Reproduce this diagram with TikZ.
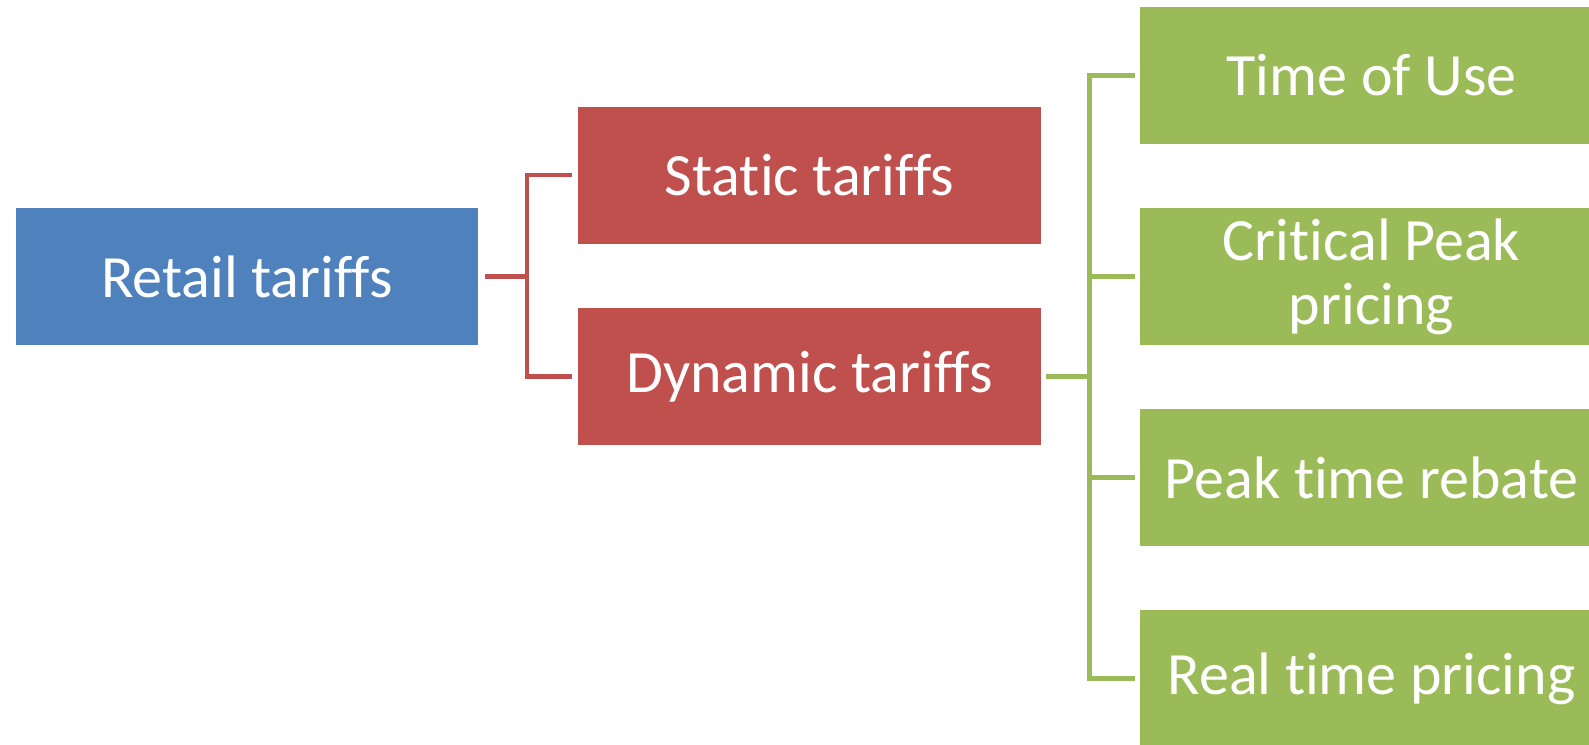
\documentclass[tikz,border=0pt]{standalone}
\usepackage{fontspec}
\setmainfont[Ligatures={NoCommon,NoRequired,NoContextual}]{Carlito}
\definecolor{tblue}{HTML}{4F81BD}
\definecolor{tred}{HTML}{C0504D}
\definecolor{tgreen}{HTML}{9BBB59}
% breaks the t-i ligature of the font
\newcommand{\brk}{\kern0pt }
\begin{document}
\begin{tikzpicture}[x=1pt,y=-1pt,
  box/.style={rectangle, inner sep=0pt, minimum width=463pt, minimum height=137pt,
    text=white, align=center, font=\fontsize{60}{64}\selectfont},
  bluebox/.style={box, fill=tblue},
  redbox/.style={box, fill=tred},
  greenbox/.style={box, fill=tgreen},
  redline/.style={draw=tred, line width=4.5pt},
  greenline/.style={draw=tgreen, line width=4.5pt}]
\useasboundingbox (0,0) rectangle (1589,744);
\clip (0,0) rectangle (1589,744);
% root
\node[bluebox, minimum width=462pt] (retail) at (247,276.5) {Retail tariffs};
% second level
\node[redbox] (static)  at (809.5,175)   {Stat\brk ic tariffs};
\node[redbox] (dynamic) at (809.5,376.5) {Dynamic tariffs};
% third level
\node[greenbox] (tou) at (1371.5,75.5)  {Time of Use};
\node[greenbox] (cpp) at (1371.5,276.5) {Crit\brk ical Peak\\pricing};
\node[greenbox] (ptr) at (1371.5,477.5) {Peak t\brk ime rebate};
\node[greenbox] (rtp) at (1371.5,678.5) {Real t\brk ime pricing};
% junctions
\coordinate (rj) at (527,276.5);
\coordinate (gj) at (1089.5,376.5);
% red connectors
\draw[redline] ([xshift=7pt]retail.east) -- (rj);
\draw[redline] ([xshift=-6pt]static.west) -| (rj) |- ([xshift=-6pt]dynamic.west);
% green connectors
\draw[greenline] ([xshift=5pt]dynamic.east) -- (gj);
\draw[greenline] ([xshift=-5pt]tou.west) -| (gj) |- ([xshift=-5pt]rtp.west);
\draw[greenline] (gj |- cpp.west) -- ([xshift=-5pt]cpp.west);
\draw[greenline] (gj |- ptr.west) -- ([xshift=-5pt]ptr.west);
\end{tikzpicture}
\end{document}
